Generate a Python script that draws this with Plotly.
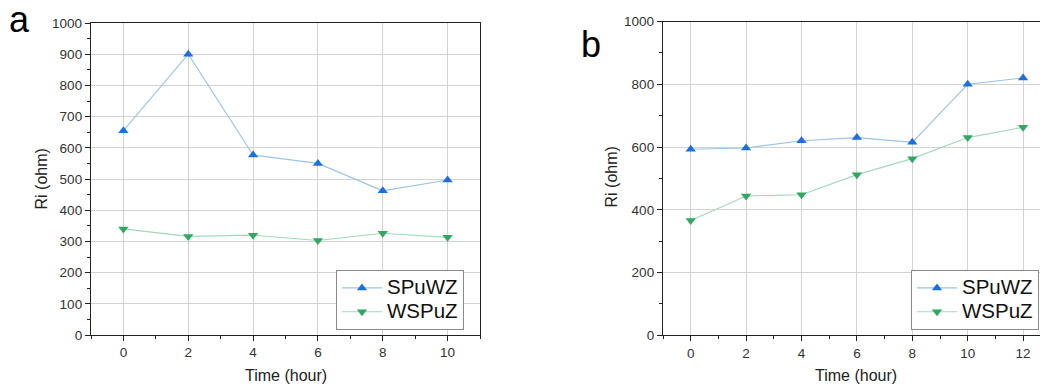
import plotly.graph_objects as go

W, H = 1040, 387

time_a = [0, 2, 4, 6, 8, 10]
spuwz_a = [655, 900, 577, 550, 462, 497]
wspuz_a = [340, 316, 320, 303, 326, 313]

time_b = [0, 2, 4, 6, 8, 10, 12]
spuwz_b = [593, 597, 620, 630, 615, 800, 820]
wspuz_b = [366, 444, 448, 512, 563, 630, 663]

series_names = ["SPuWZ", "WSPuZ"]

BLUE_M, BLUE_L = "#1E6FDE", "#9CC3E6"
GREEN_M, GREEN_L = "#2EA862", "#A3D9B8"
FONT = "Liberation Sans, Arial, sans-serif"

def px(x):
    return x / W

def py(y):
    return 1 - y / H

def legend_label(name):
    return "<span style='font-size:20.5px'>" + name + "</span>"

fig = go.Figure()

def add(x, y, name, mc, lc, sym, xa, ya, leg):
    fig.add_trace(go.Scatter(
        x=x, y=y, name=legend_label(name), mode="lines+markers",
        line=dict(color=lc, width=1.1),
        marker=dict(symbol=sym, color=mc, size=9),
        xaxis=xa, yaxis=ya, legend=leg, showlegend=True))

add(time_a, spuwz_a, series_names[0], BLUE_M, BLUE_L, "triangle-up", "x", "y", "legend")
add(time_a, wspuz_a, series_names[1], GREEN_M, GREEN_L, "triangle-down", "x", "y", "legend")
add(time_b, spuwz_b, series_names[0], BLUE_M, BLUE_L, "triangle-up", "x2", "y2", "legend2")
add(time_b, wspuz_b, series_names[1], GREEN_M, GREEN_L, "triangle-down", "x2", "y2", "legend2")

axis_common = dict(
    showline=True, linecolor="#222", linewidth=1.3,
    showgrid=True, gridcolor="#D3D3D3", gridwidth=1,
    ticks="outside", ticklen=5, tickcolor="#222", tickwidth=1,
    tickfont=dict(family=FONT, size=13.5, color="#333"),
    zeroline=False, automargin=False,
)
minor_common = dict(ticklen=3, ticks="outside", tickcolor="#222", showgrid=False)

legend_common = dict(xanchor="right", yanchor="bottom",
                     bgcolor="white", bordercolor="#8A8A8A", borderwidth=1,
                     font=dict(family=FONT, size=16, color="#111"),
                     tracegroupgap=0, itemwidth=40)

fig.update_layout(
    width=W, height=H,
    margin=dict(l=0, r=0, t=0, b=0, autoexpand=False),
    paper_bgcolor="white", plot_bgcolor="white",
    font=dict(family=FONT, color="#222"),
    xaxis=dict(domain=[px(91), px(480)], range=[-1, 11], dtick=2, tick0=0,
               mirror=True, anchor="y", minor=dict(dtick=1, tick0=1, **minor_common),
               **axis_common),
    yaxis=dict(domain=[py(335), py(23)], range=[0, 1000], dtick=100, tick0=0,
               mirror=True, anchor="x", minor=dict(dtick=50, **minor_common),
               **axis_common),
    xaxis2=dict(domain=[px(663), 1.0], range=[-1, 12.61], dtick=2, tick0=0,
                mirror=True, anchor="y2", minor=dict(dtick=1, tick0=1, **minor_common),
                **axis_common),
    yaxis2=dict(domain=[py(335.3), py(21.5)], range=[0, 1000], dtick=200, tick0=0,
                mirror=False, anchor="x2", minor=dict(dtick=100, **minor_common),
                **axis_common),
    legend=dict(x=px(464), y=py(330), **legend_common),
    legend2=dict(x=px(1039), y=py(330), **legend_common),
)

ann = [
    dict(text="a", x=px(19), y=py(19), font=dict(size=36, color="#000")),
    dict(text="b", x=px(591), y=py(45), font=dict(size=36, color="#000")),
    dict(text="Ri (ohm)", x=px(40.5), y=py(179), textangle=-90, font=dict(size=16, color="#222")),
    dict(text="Ri (ohm)", x=px(611.5), y=py(177), textangle=-90, font=dict(size=16, color="#222")),
    dict(text="Time (hour)", x=px(285.5), y=py(375), font=dict(size=16, color="#222")),
    dict(text="Time (hour)", x=px(856), y=py(375), font=dict(size=16, color="#222")),
]
for a in ann:
    a["font"]["family"] = FONT
    fig.add_annotation(xref="paper", yref="paper", xanchor="center", yanchor="middle",
                       showarrow=False, **a)

fig.write_html("out.html")
